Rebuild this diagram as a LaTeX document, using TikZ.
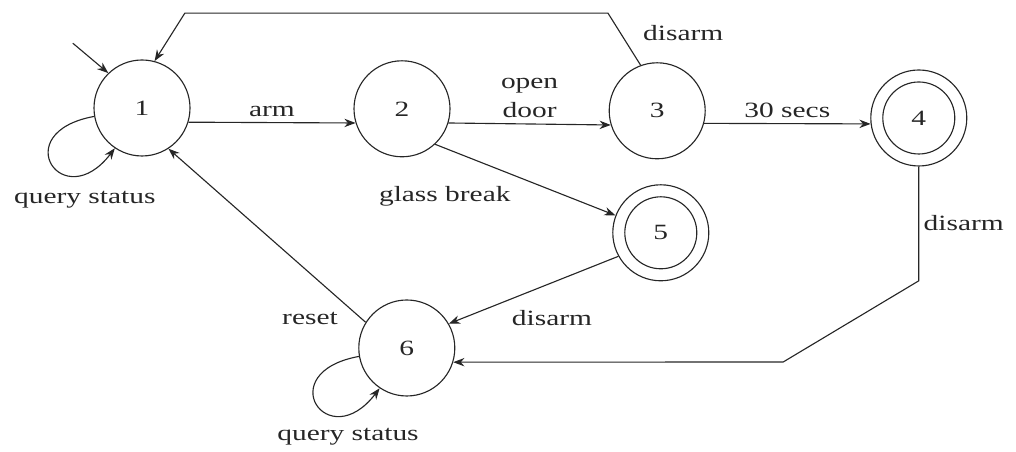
\documentclass[tikz,border=0pt]{standalone}
\usepackage{fontspec}
\setmainfont[FakeStretch=1.35]{Liberation Serif}
\usepackage{tikz}
\usetikzlibrary{arrows.meta, positioning, calc}
\tikzset{
  statenode/.style={
    draw, circle, line width=0.8pt, minimum size=2.4cm, inner sep=0pt,
    font=\fontsize{15.5}{21}\selectfont, color=black!85
  },
  finalring/.style={line width=0.8pt, color=black!85},
  fsmarrow/.style={
    -{Stealth[length=2.8mm, width=2.1mm]}, line width=0.8pt, color=black!85
  },
  fsmlabel/.style={
    font=\fontsize{15.5}{21}\selectfont, text=black!85, align=center, inner sep=1pt
  },
}

\begin{document}
\begin{tikzpicture}
  \useasboundingbox (0,0) rectangle (25.4,11.3);

  % --- States ---
  \node[statenode] (n1) at (3.55, 8.6) {1};
  \node[statenode] (n2) at (10.05, 8.58) {2};
  \node[statenode] (n3) at (16.43, 8.53) {3};
  \node[statenode] (n4) at (22.97, 8.35) {4};
  \node[statenode] (n5) at (16.52, 5.48) {5};
  \node[statenode] (n6) at (10.17, 2.6) {6};
  \draw[finalring] (n4.center) circle[radius=0.9cm];
  \draw[finalring] (n5.center) circle[radius=0.9cm];

  % --- Start arrow ---
  \coordinate (init) at (1.82, 10.22);
  \draw[fsmarrow] (init) -- (n1.134);

  % --- Transitions ---
  \draw[fsmarrow] (n1.-17) -- (n2.-163) node[fsmlabel, midway, above=3pt] {arm};
  \draw[fsmarrow] (n2.-17) -- (n3.-163) node[fsmlabel, midway, above=3pt] {open\\door};
  \draw[fsmarrow] (n3.-15) -- (n4.187) node[fsmlabel, midway, above=3pt] {30 secs};
  \draw[fsmarrow] (n2.-47) -- (n5.159);
  \node[fsmlabel] (lglass) at (11.12, 6.38) {glass break};
  \draw[fsmarrow] (n5.209) -- (n6.30);
  \node[fsmlabel] (ldis5) at (13.8, 3.35) {disarm};
  \draw[fsmarrow] (n6.148) -- (n1.-57);
  \node[fsmlabel] (lreset) at (7.75, 3.35) {reset};

  % --- Long disarm paths ---
  \coordinate (topR) at (15.2, 10.97);
  \coordinate (topL) at (4.62, 10.97);
  \draw[fsmarrow] (n3.110) -- (topR) -- (topL) -- (n1.75);
  \node[fsmlabel] (ldis3) at (17.08, 10.47) {disarm};

  \coordinate (rightA) at (22.97, 4.28);
  \coordinate (rightB) at (19.58, 2.25);
  \draw[fsmarrow] (n4.south) -- (rightA) -- (rightB) -- (n6.-17);
  \node[fsmlabel, anchor=west] (ldis4) at (23.05, 5.72) {disarm};

  % --- Self loops ---
  \draw[fsmarrow] (n1.190) .. controls +(-2.2,-0.4) and +(-1.3,-1.7) .. (n1.236);
  \node[fsmlabel] (lq1) at (2.12, 6.3) {query status};
  \draw[fsmarrow] (n6.190) .. controls +(-2.2,-0.4) and +(-1.3,-1.7) .. (n6.236);
  \node[fsmlabel] (lq6) at (8.7, 0.38) {query status};
\end{tikzpicture}
\end{document}
